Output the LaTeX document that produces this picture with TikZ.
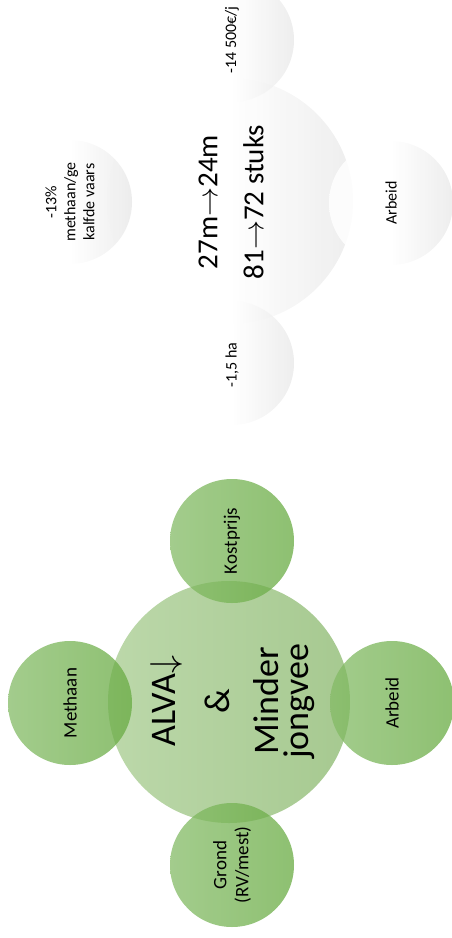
\documentclass[tikz,border=0pt]{standalone}
\usepackage{graphicx}
\usepackage{fontspec}
\setmainfont{Carlito}
\definecolor{gL}{RGB}{188,216,170}
\definecolor{gR}{RGB}{166,201,144}
\definecolor{sL}{RGB}{132,187,102}
\definecolor{sR}{RGB}{104,171,66}
\definecolor{wR}{RGB}{234,234,234}
\newcommand{\bigdn}{\scalebox{1.447}{$\downarrow$}}
\newcommand{\medrt}{\scalebox{1.166}{$\rightarrow$}}
\begin{document}
\begin{tikzpicture}[x=1pt,y=-1pt,
  maincirc/.style={circle, minimum size=242pt, inner sep=0pt, left color=gL, right color=gR},
  satcirc/.style={circle, minimum size=124pt, inner sep=0pt, left color=sL, right color=sR, fill opacity=0.75},
  topmain/.style={circle, minimum size=246pt, inner sep=0pt, left color=white, right color=wR, middle color=white, fill opacity=0.85},
  topsat/.style={circle, minimum size=124pt, inner sep=0pt, left color=white, right color=wR, middle color=white, fill opacity=0.85},
  lbl/.style={rotate=90, align=center, inner sep=0pt, text=black},
  biglbl/.style={lbl, font=\fontsize{36}{30}\selectfont},
  medlbl/.style={lbl, font=\fontsize{19}{22}\selectfont},
  toplbl/.style={lbl, font=\fontsize{29}{46}\selectfont},
  smalllbl/.style={lbl, font=\fontsize{16}{19}\selectfont}]
\useasboundingbox (0,0) rectangle (452,938);
% top cluster
\node[topmain] (tm) at (230,201) {};
\node[topsat] (tn) at (232,40) {};
\node[topsat] (tw) at (70,202) {};
\node[topsat] (te) at (391,203) {};
\node[topsat] (ts) at (232,363) {};
\node[toplbl] (tmt) at (231,202) {27m\medrt24m\\81\medrt72 stuks};
\node[smalllbl] (tnt) at (tn.center) {-14 500€/j};
\node[smalllbl] (twt) at (tw.center) {-13\%\\methaan/ge\\kalfde vaars};
\node[smalllbl] (tet) at (te.center) {Arbeid};
\node[smalllbl] (tst) at (232,365) {-1,5 ha};
% bottom cluster
\node[maincirc] (bm) at (229,702) {};
\node[satcirc] (bn) at (232,541) {};
\node[satcirc] (bw) at (70,703) {};
\node[satcirc] (be) at (392,703) {};
\node[satcirc] (bs) at (232,865) {};
\node[biglbl] (bmt) at (232.5,701) {ALVA\bigdn\\[22pt]\&\\[19pt]Minder\\jongvee};
\node[medlbl] (bnt) at (bn.center) {Kostprijs};
\node[medlbl] (bwt) at (bw.center) {Methaan};
\node[medlbl] (bet) at (be.center) {Arbeid};
\node[medlbl] (bst) at (bs.center) {Grond\\(RV/mest)};
\end{tikzpicture}
\end{document}
